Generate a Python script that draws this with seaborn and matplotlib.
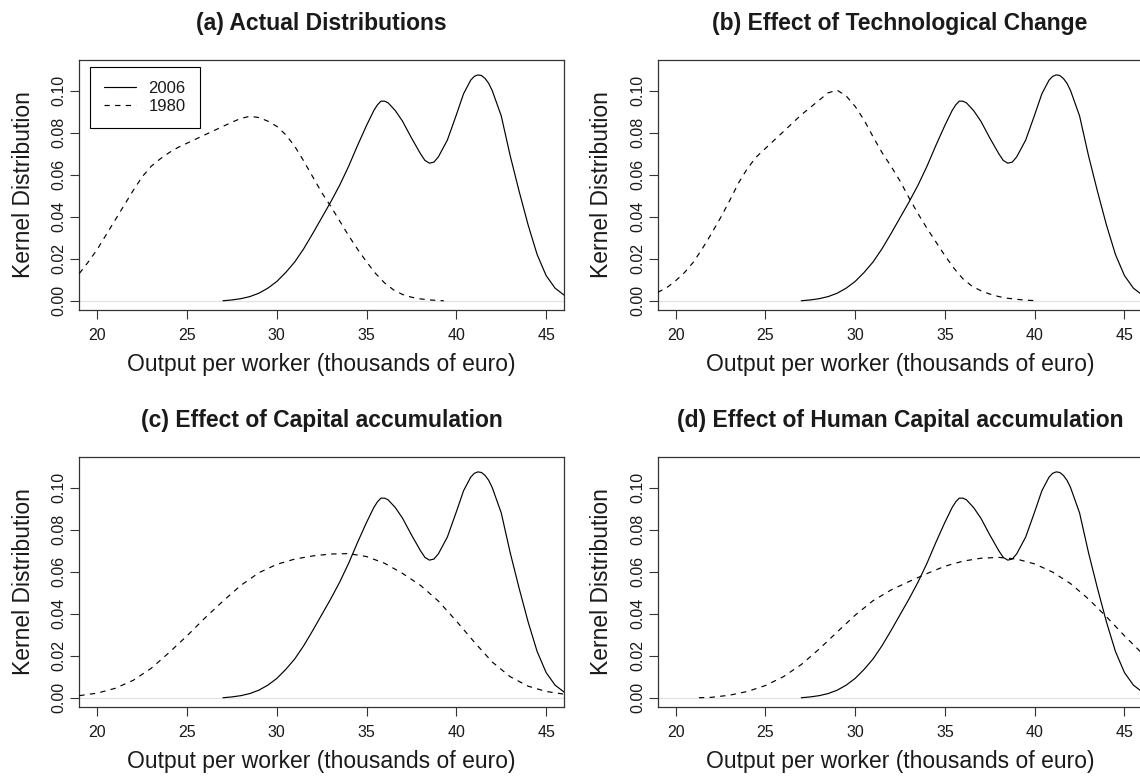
import numpy as np
import pandas as pd
import matplotlib
matplotlib.use("Agg")
import matplotlib.pyplot as plt
import seaborn as sns
from matplotlib.ticker import FormatStrFormatter

# ---------------- data ----------------
x_2006 = [27.0, 27.5, 28.0, 28.5, 29.0, 29.5, 30.0, 30.5, 31.0, 31.5, 32.0, 32.5,
          33.0, 33.5, 34.0, 34.5, 35.0, 35.4, 35.6, 35.8, 36.0, 36.2, 36.6, 37.0,
          37.5, 38.0, 38.25, 38.5, 38.75, 39.0, 39.5, 40.0, 40.4, 40.8, 41.0, 41.2,
          41.4, 41.6, 41.8, 42.0, 42.5, 43.0, 43.5, 44.0, 44.5, 45.0, 45.5, 46.0]
y_2006 = [0.0000, 0.0004, 0.0010, 0.0020, 0.0036, 0.0060, 0.0092, 0.0135, 0.0185,
          0.0248, 0.0320, 0.0395, 0.0470, 0.0550, 0.0640, 0.0740, 0.0835, 0.0905,
          0.0932, 0.0950, 0.0950, 0.0942, 0.0905, 0.0855, 0.0775, 0.0700, 0.0668,
          0.0655, 0.0660, 0.0685, 0.0765, 0.0885, 0.0985, 0.1050, 0.1068, 0.1075,
          0.1072, 0.1058, 0.1035, 0.1000, 0.0880, 0.0690, 0.0520, 0.0360, 0.0220,
          0.0120, 0.0060, 0.0027]

x_1980_a = [19.0, 19.5, 20.0, 20.5, 21.0, 21.5, 22.0, 22.5, 23.0, 23.5, 24.0, 24.5,
            25.0, 25.5, 26.0, 26.5, 27.0, 27.5, 28.0, 28.5, 29.0, 29.5, 30.0, 30.5,
            31.0, 31.5, 32.0, 32.5, 33.0, 33.5, 34.0, 34.5, 35.0, 35.5, 36.0, 36.5,
            37.0, 37.5, 38.0, 38.5, 39.3]
y_1980_a = [0.0130, 0.0185, 0.0245, 0.0315, 0.0385, 0.0455, 0.0525, 0.0590, 0.0640,
            0.0675, 0.0705, 0.0730, 0.0750, 0.0770, 0.0790, 0.0810, 0.0830, 0.0850,
            0.0868, 0.0878, 0.0872, 0.0855, 0.0830, 0.0790, 0.0735, 0.0665, 0.0590,
            0.0515, 0.0450, 0.0380, 0.0310, 0.0245, 0.0185, 0.0130, 0.0085, 0.0052,
            0.0030, 0.0017, 0.0009, 0.0004, 0.0000]

x_1980_b = [19.0, 19.5, 20.0, 20.5, 21.0, 21.5, 22.0, 22.5, 23.0, 23.5, 24.0, 24.5,
            25.0, 25.5, 26.0, 26.5, 27.0, 27.5, 28.0, 28.5, 29.0, 29.5, 30.0, 30.5,
            31.0, 31.5, 32.0, 32.5, 33.0, 33.5, 34.0, 34.5, 35.0, 35.5, 36.0, 36.5,
            37.0, 37.5, 38.0, 38.5, 39.0, 39.5, 40.2]
y_1980_b = [0.0040, 0.0062, 0.0095, 0.0135, 0.0185, 0.0250, 0.0320, 0.0395, 0.0475,
            0.0560, 0.0630, 0.0685, 0.0725, 0.0765, 0.0805, 0.0845, 0.0885, 0.0920,
            0.0955, 0.0990, 0.1002, 0.0975, 0.0925, 0.0860, 0.0780, 0.0705, 0.0640,
            0.0570, 0.0490, 0.0415, 0.0345, 0.0280, 0.0215, 0.0155, 0.0105, 0.0070,
            0.0048, 0.0032, 0.0020, 0.0012, 0.0007, 0.0003, 0.0000]

x_1980_c = [19.0, 20.0, 21.0, 22.0, 23.0, 24.0, 25.0, 26.0, 27.0, 28.0, 29.0, 30.0,
            31.0, 32.0, 33.0, 34.0, 35.0, 36.0, 37.0, 38.0, 39.0, 40.0, 41.0, 42.0,
            43.0, 44.0, 45.0, 46.0]
y_1980_c = [0.0010, 0.0022, 0.0045, 0.0083, 0.0140, 0.0215, 0.0295, 0.0380, 0.0460,
            0.0535, 0.0595, 0.0635, 0.0660, 0.0675, 0.0684, 0.0686, 0.0672, 0.0640,
            0.0592, 0.0535, 0.0460, 0.0365, 0.0265, 0.0170, 0.0100, 0.0055, 0.0030,
            0.0017]

x_1980_d = [21.3, 22.0, 23.0, 24.0, 25.0, 26.0, 27.0, 28.0, 29.0, 30.0, 31.0, 32.0,
            33.0, 34.0, 35.0, 36.0, 37.0, 38.0, 39.0, 40.0, 41.0, 42.0, 43.0, 44.0,
            45.0, 46.0]
y_1980_d = [0.0000, 0.0002, 0.0012, 0.0030, 0.0058, 0.0100, 0.0158, 0.0232, 0.0313,
            0.0393, 0.0462, 0.0513, 0.0553, 0.0591, 0.0626, 0.0650, 0.0664, 0.0668,
            0.0660, 0.0637, 0.0598, 0.0543, 0.0470, 0.0385, 0.0295, 0.0210]

titles = ["(a) Actual Distributions",
          "(b) Effect of Technological Change",
          "(c) Effect of Capital accumulation",
          "(d) Effect of Human Capital accumulation"]
legend_labels = ["2006", "1980"]
x_ticks = [20, 25, 30, 35, 40, 45]
y_ticks = [0.00, 0.02, 0.04, 0.06, 0.08, 0.10]
x_label = "Output per worker (thousands of euro)"
y_label = "Kernel Distribution"

# ---------------- style ----------------
sns.set_style("ticks")
plt.rcParams["font.family"] = ["Liberation Sans", "DejaVu Sans"]
plt.rcParams["text.color"] = "#1a1a1a"
plt.rcParams["axes.labelcolor"] = "#1a1a1a"
plt.rcParams["xtick.color"] = "#333333"
plt.rcParams["ytick.color"] = "#333333"

fig = plt.figure(figsize=(11.4, 7.77), dpi=100)
positions = [[0.0696, 0.601, 0.4252, 0.3218],
             [0.5769, 0.601, 0.4252, 0.3218],
             [0.0696, 0.0901, 0.4252, 0.3218],
             [0.5769, 0.0901, 0.4252, 0.3218]]
dashed_sets = [(x_1980_a, y_1980_a), (x_1980_b, y_1980_b),
               (x_1980_c, y_1980_c), (x_1980_d, y_1980_d)]

for i, (pos, (xd, yd), title) in enumerate(zip(positions, dashed_sets, titles)):
    ax = fig.add_axes(pos)
    ax.axhline(0, color="#e2e2e2", lw=0.9, zorder=1)
    df_s = pd.DataFrame({"x": x_2006, "y": y_2006})
    df_d = pd.DataFrame({"x": xd, "y": yd})
    sns.lineplot(data=df_s, x="x", y="y", ax=ax, color="black", lw=0.85,
                 estimator=None, sort=False, zorder=3)
    sns.lineplot(data=df_d, x="x", y="y", ax=ax, color="black", lw=0.85,
                 estimator=None, sort=False, zorder=3, linestyle=(0, (4.5, 4.5)))
    ax.set_xlim(19, 46)
    ax.set_ylim(-0.0044, 0.1146)
    ax.set_xticks(x_ticks)
    ax.set_yticks(y_ticks)
    ax.yaxis.set_major_formatter(FormatStrFormatter("%.2f"))
    ax.tick_params(axis="both", direction="out", length=6.7, width=0.8,
                   labelsize=11.5, labelcolor="#1a1a1a")
    ax.tick_params(axis="x", pad=6.0)
    ax.tick_params(axis="y", pad=2.5)
    for lab in ax.get_yticklabels():
        lab.set_rotation(90)
        lab.set_va("center")
    for sp in ax.spines.values():
        sp.set_visible(True)
        sp.set_color("#333333")
        sp.set_linewidth(0.9)
    ax.set_xlabel(x_label, fontsize=16.5, va="center", ha="center")
    ax.set_ylabel(y_label, fontsize=16.5, va="center", ha="center")
    ax.xaxis.set_label_coords(0.5, -0.218)
    ax.yaxis.set_label_coords(-0.116, 0.5)
    ax.set_title(title, fontsize=16.5, fontweight="bold", pad=21.6)
    if i == 0:
        lines = ax.get_lines()
        handles = [lines[1], lines[2]]
        leg = ax.legend(handles, legend_labels, loc="upper left",
                        bbox_to_anchor=(0.022, 0.972), borderaxespad=0,
                        frameon=True, fancybox=False, edgecolor="black",
                        framealpha=1, fontsize=12, handlelength=1.9,
                        handletextpad=0.75, labelspacing=0.15, borderpad=0.85)
        leg.get_frame().set_linewidth(0.8)
    else:
        if ax.get_legend() is not None:
            ax.get_legend().remove()

fig.savefig("out.png", dpi=100, facecolor="white")
